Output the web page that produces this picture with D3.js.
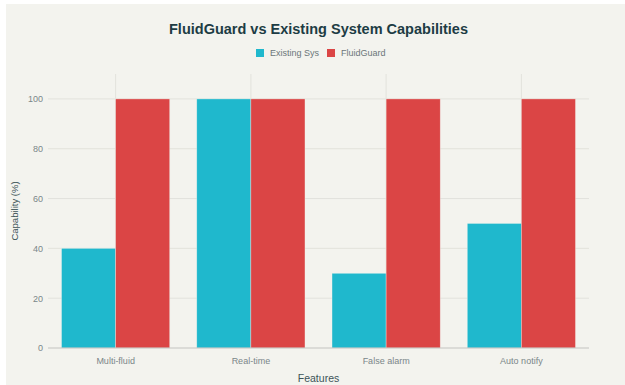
<!DOCTYPE html>
<html><head><meta charset="utf-8">
<script src="https://cdn.jsdelivr.net/npm/d3@7"></script>
<style>html,body{margin:0;padding:0;background:#fff;}svg{display:block;}</style>
</head><body><svg id="c" width="625" height="385"></svg>
<script>
const categories = ["Multi-fluid", "Real-time", "False alarm", "Auto notify"];
const seriesNames = ["Existing Sys", "FluidGuard"];
const existingSys = [40, 100, 30, 50];
const fluidGuard = [100, 100, 100, 100];
const yTicks = [0, 20, 40, 60, 80, 100];
const colors = ["#1FB8CD", "#DB4545"];

const svg = d3.select("#c");
const font = "'Liberation Sans', Arial, sans-serif";
svg.append("rect").attr("x", 6).attr("y", 4).attr("width", 619).attr("height", 381).attr("fill", "#f3f3ee");

const m = {left: 48, right: 589, top: 74, bottom: 348};
const xc = d3.scaleBand().domain(categories).range([m.left, m.right]).padding(0);
const y = d3.scaleLinear().domain([0, 110]).range([m.bottom, m.top]);

// vertical grid at category centers
svg.append("g").selectAll("line").data(categories).join("line")
  .attr("x1", d => xc(d) + xc.bandwidth()/2).attr("x2", d => xc(d) + xc.bandwidth()/2)
  .attr("y1", m.top).attr("y2", m.bottom).attr("stroke", "#e2e2dc").attr("stroke-width", 1);
// horizontal grid
svg.append("g").selectAll("line").data(yTicks.filter(t => t > 0)).join("line")
  .attr("x1", m.left).attr("x2", m.right).attr("y1", d => y(d)).attr("y2", d => y(d))
  .attr("stroke", "#e2e2dc").attr("stroke-width", 1);

const data = categories.map((c, i) => ({cat: c, vals: [existingSys[i], fluidGuard[i]]}));
svg.append("g").selectAll("g").data(data).join("g")
  .attr("transform", d => `translate(${xc(d.cat) + xc.bandwidth()*0.1},0)`)
  .selectAll("rect").data(d => d.vals.map((v, j) => ({v, j})))
  .join("rect")
  .attr("x", d => d.j * xc.bandwidth()*0.4)
  .attr("width", xc.bandwidth()*0.4)
  .attr("y", d => y(d.v)).attr("height", d => y(0) - y(d.v))
  .attr("fill", d => colors[d.j])
  .attr("stroke", "#f3f3ee").attr("stroke-opacity", 0.6).attr("stroke-width", 0.6);

// zero line
svg.append("line").attr("x1", m.left).attr("x2", m.right).attr("y1", y(0)).attr("y2", y(0))
  .attr("stroke", "#c4c4c0").attr("stroke-width", 1.2);

// y axis labels
const yAxis = d3.axisLeft(y).tickValues(yTicks).tickSize(0).tickPadding(5);
const gy = svg.append("g").attr("transform", `translate(${m.left},0)`).call(yAxis);
gy.select(".domain").remove();
gy.selectAll("text").attr("font-family", font).attr("font-size", 9).attr("fill", "#7a8689");

// x axis labels
const xAxis = d3.axisBottom(xc).tickSize(0).tickPadding(10);
const gx = svg.append("g").attr("transform", `translate(0,${m.bottom})`).call(xAxis);
gx.select(".domain").remove();
gx.selectAll("text").attr("font-family", font).attr("font-size", 9).attr("fill", "#7a8689");

// axis titles
svg.append("text").attr("x", (m.left + m.right)/2).attr("y", 381.5).attr("text-anchor", "middle")
  .attr("font-family", font).attr("font-size", 10.5).attr("fill", "#3d5358").text("Features");
svg.append("text").attr("transform", `translate(18,${(m.top + m.bottom)/2}) rotate(-90)`).attr("text-anchor", "middle")
  .attr("font-family", font).attr("font-size", 9.5).attr("fill", "#3d5358").text("Capability (%)");

// title
svg.append("text").attr("x", 318.5).attr("y", 33.5).attr("text-anchor", "middle")
  .attr("font-family", font).attr("font-weight", "bold").attr("font-size", 14.5).attr("fill", "#1d3c44")
  .text("FluidGuard vs Existing System Capabilities");

// legend
const legX = [260, 331];
const lg = svg.append("g").selectAll("g").data(seriesNames).join("g")
  .attr("transform", (d, i) => `translate(${legX[i]},53)`);
lg.append("rect").attr("x", -4).attr("y", -4).attr("width", 8).attr("height", 8).attr("fill", (d, i) => colors[i]);
lg.append("text").attr("x", 10).attr("y", 3.2).attr("font-family", font).attr("font-size", 9)
  .attr("fill", "#6b7679").text(d => d);
</script></body></html>
